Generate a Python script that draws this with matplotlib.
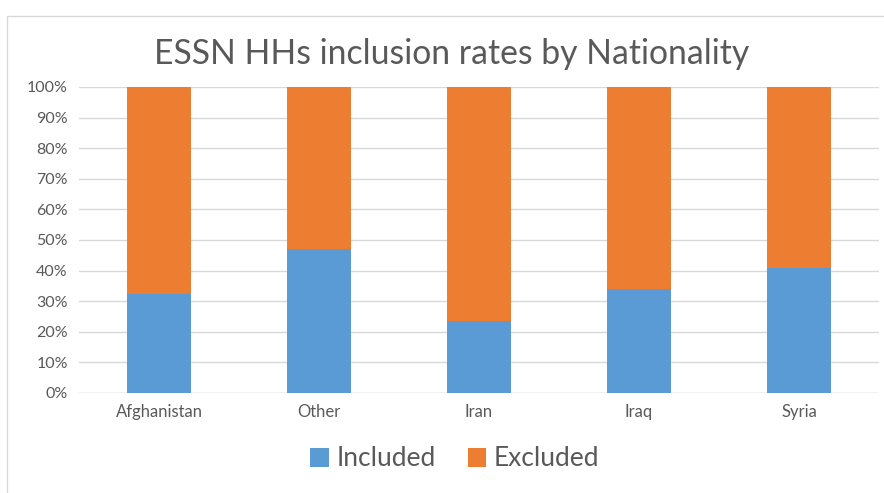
import matplotlib
matplotlib.use("Agg")
import matplotlib.pyplot as plt
from matplotlib.patches import Rectangle
import numpy as np

categories = ["Afghanistan", "Other", "Iran", "Iraq", "Syria"]
included = [32.5, 47.0, 23.5, 34.0, 41.0]
excluded = [100 - v for v in included]
yticks = list(range(0, 101, 10))

blue = "#5B9BD5"
orange = "#ED7D31"
txt = "#595959"

plt.rcParams['font.family'] = ['Lato', 'DejaVu Sans']

fig = plt.figure(figsize=(8.84, 4.93), dpi=100)
# chart frame
fig.patches.append(Rectangle((7/884, -0.01), 1.0, 1 - 16/493 + 0.01, transform=fig.transFigure,
                             fill=False, edgecolor="#d9d9d9", linewidth=1.0))
ax = fig.add_axes([79/884, 1 - 393/493, 800/884, 306/493])
x = np.arange(len(categories))
ax.bar(x, included, width=0.4, color=blue, label="Included", zorder=3)
ax.bar(x, excluded, width=0.4, bottom=included, color=orange, label="Excluded", zorder=3)
ax.set_xlim(-0.5, len(categories) - 0.5)
ax.set_ylim(0, 100)
ax.set_yticks(yticks)
ax.set_yticklabels([f"{t}%" for t in yticks], color=txt, fontsize=11.5)
ax.set_xticks(x)
ax.set_xticklabels(categories, color=txt, fontsize=12)
ax.tick_params(axis='both', length=0, pad=8)
ax.yaxis.grid(True, color="#d9d9d9", linewidth=1, zorder=0)
for s in ax.spines.values():
    s.set_visible(False)
ax.axhline(0, color="#d9d9d9", linewidth=1, zorder=2)

fig.text(452/884, 1 - 54/493, "ESSN HHs inclusion rates by Nationality", ha='center', va='center',
         fontsize=24.3, color=txt)
leg = fig.legend(loc='center', bbox_to_anchor=(455/884, 1 - 459/493), ncol=2, frameon=False,
                 fontsize=19, labelcolor=txt, handlelength=0.7, handleheight=0.7,
                 handletextpad=0.3, columnspacing=1.2)
fig.savefig("out.png", dpi=100)
